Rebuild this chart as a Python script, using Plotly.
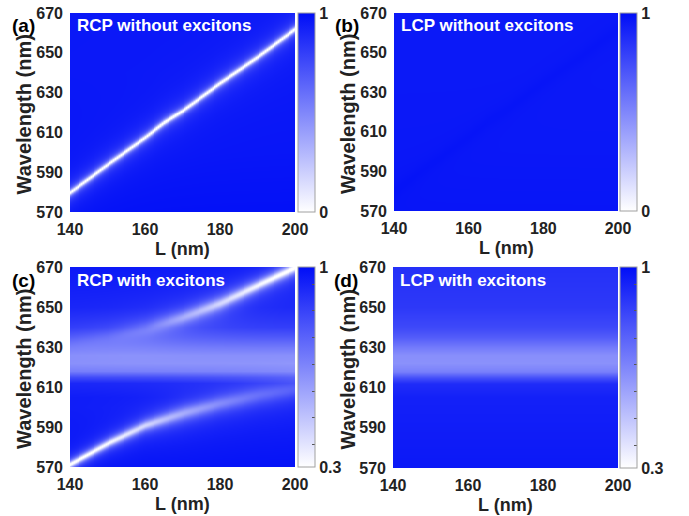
import numpy as np
import plotly.graph_objects as go

# ---------------- data ----------------
L_ticks = [140, 160, 180, 200]
wl_ticks = [570, 590, 610, 630, 650, 670]

# L positions (nm) at which features were read
L_read = [140, 150, 160, 165, 170, 180, 190, 200]

# (a) RCP without excitons: bare cavity resonance (white line)
cav_wl = [580, 594, 607.5, 615, 621, 635, 648, 662]
cav_depth = [0.93, 0.93, 0.93, 0.97, 0.93, 0.93, 0.93, 0.93]

# (b) LCP without excitons: very faint trace of the same mode (slightly deeper blue)
faint_rise = [0.015, 0.015, 0.015, 0.015, 0.015, 0.015, 0.015, 0.015]

# (c) RCP with excitons: upper and lower polariton branches
upper_wl = [632, 635, 639, 642, 645, 652, 661, 670]
upper_depth = [0.03, 0.08, 0.18, 0.27, 0.36, 0.52, 0.63, 0.70]
upper_width = [10, 10, 9, 8, 7, 6, 5, 5]
lower_wl = [571.5, 582, 591, 594, 597, 602, 606, 609]
lower_depth = [0.72, 0.66, 0.55, 0.48, 0.42, 0.32, 0.24, 0.18]
lower_width = [3.5, 4, 5, 6, 7, 8, 9, 10]

# exciton band (reflectance dip) vs wavelength, panels (c) and (d)
band_wl = [570, 605, 612, 615, 618, 622, 626, 630, 635, 640, 650, 670]
band_dip_c = [0, 0, 0.03, 0.13, 0.28, 0.33, 0.32, 0.26, 0.17, 0.09, 0.03, 0]
band_dip_d = [0, 0, 0.03, 0.13, 0.27, 0.32, 0.31, 0.25, 0.16, 0.10, 0.05, 0.02]

# background level vs wavelength for each panel
bg_wl = [570, 600, 640, 670]
bg_a = [0.99, 0.97, 0.96, 0.96]
bg_b = [0.97, 0.96, 0.955, 0.955]
bg_c = [0.99, 0.96, 0.96, 0.97]
bg_d = [0.97, 0.95, 0.93, 0.92]

cbar_minor_c = [0.3795, 0.4725, 0.566, 0.659, 0.7525, 0.847, 0.9405]

titles = ["RCP without excitons", "LCP without excitons",
          "RCP with excitons", "LCP with excitons"]
labels = ["(a)", "(b)", "(c)", "(d)"]

# ---------------- build maps ----------------
L = np.linspace(140, 200, 121)
WL = np.linspace(570, 670, 401)
LL, WW = np.meshgrid(L, WL)


def at(vals):
    return np.interp(LL, L_read, vals)


def lor(x, c, w):
    return 1.0 / (1.0 + ((x - c) / (w / 2.0)) ** 2)


cav = at(cav_wl)
Za = np.interp(WW, bg_wl, bg_a) - at(cav_depth) * lor(WW, cav, 2.8) - 0.08 * lor(WW, cav, 14)
Zb = np.interp(WW, bg_wl, bg_b) + at(faint_rise) * lor(WW, cav, 8)
Zc = (np.interp(WW, bg_wl, bg_c) - np.interp(WW, band_wl, band_dip_c)
      - at(upper_depth) * lor(WW, at(upper_wl), at(upper_width))
      - at(lower_depth) * lor(WW, at(lower_wl), at(lower_width)))
Zd = np.interp(WW, bg_wl, bg_d) - np.interp(WW, band_wl, band_dip_d)

Za = np.clip(Za, 0, 1)
Zb = np.clip(Zb, 0, 1)
Zc = np.clip(Zc, 0.3, 1)
Zd = np.clip(Zd, 0.3, 1)

# ---------------- layout geometry (pixels) ----------------
W, H = 689, 516
FONT = "Liberation Sans, Arial, sans-serif"
TXT = "#222222"
cscale = [[0, "rgb(255,255,255)"], [1, "rgb(0,14,247)"]]

panels = [
    dict(z=Za, x0=70, x1=295, y0=13, y1=212, cb=298, zmin=0, zmax=1),
    dict(z=Zb, x0=394, x1=618, y0=13, y1=211, cb=620, zmin=0, zmax=1),
    dict(z=Zc, x0=70, x1=295, y0=267, y1=467, cb=298, zmin=0.3, zmax=1),
    dict(z=Zd, x0=393, x1=618, y0=267, y1=468, cb=620, zmin=0.3, zmax=1),
]

fig = go.Figure()
layout = dict(width=W, height=H, margin=dict(l=0, r=0, t=0, b=0, autoexpand=False),
              paper_bgcolor="white", plot_bgcolor="white",
              font=dict(family=FONT, color=TXT), showlegend=False)
annotations = []

for i, p in enumerate(panels):
    n = "" if i == 0 else str(i + 1)
    xa, ya = "x" + n, "y" + n
    zmin, zmax = p["zmin"], p["zmax"]
    if zmin == 0:
        tv, tt, tks = [0, 1], ["0", "1"], ""
    else:
        tv = [0.3] + cbar_minor_c + [1]
        tt = ["0.3"] + [""] * len(cbar_minor_c) + ["1"]
        tks = "inside"
    fig.add_trace(go.Heatmap(
        x=L, y=WL, z=p["z"], xaxis=xa, yaxis=ya,
        colorscale=cscale, zmin=zmin, zmax=zmax, zsmooth="best",
        colorbar=dict(
            x=p["cb"] / W, xanchor="left", xpad=0, ypad=0,
            y=1 - (p["y0"] + p["y1"]) / 2 / H, yanchor="middle",
            len=(p["y1"] - p["y0"]) / H, lenmode="fraction",
            thickness=17, thicknessmode="pixels",
            outlinewidth=1, outlinecolor="#a0a0a0",
            tickvals=tv, ticktext=tt, ticks=tks, ticklen=3,
            tickcolor="#555555", tickwidth=1,
            tickfont=dict(family=FONT, size=16, color=TXT, weight="bold"),
        ),
        hoverinfo="skip",
    ))
    layout["xaxis" + n] = dict(
        domain=[p["x0"] / W, p["x1"] / W], anchor=ya, range=[140, 200],
        tickvals=L_ticks, ticks="", showgrid=False, zeroline=False,
        showline=False, ticklabelstandoff=6, automargin=False,
        tickfont=dict(family=FONT, size=16, color=TXT, weight="bold"),
    )
    layout["yaxis" + n] = dict(
        domain=[1 - p["y1"] / H, 1 - p["y0"] / H], anchor=xa, range=[570, 670],
        tickvals=wl_ticks, ticks="", showgrid=False, zeroline=False,
        showline=False, ticklabelstandoff=6, automargin=False,
        tickfont=dict(family=FONT, size=16, color=TXT, weight="bold"),
    )
    # x-axis title
    annotations.append(dict(
        text="L (nm)", xref="paper", yref="paper",
        x=(p["x0"] + p["x1"]) / 2 / W, y=1 - (p["y1"] + 37) / H,
        xanchor="center", yanchor="middle", showarrow=False,
        font=dict(family=FONT, size=18, color=TXT, weight="bold")))
    # y-axis title
    annotations.append(dict(
        text="Wavelength (nm)", xref="paper", yref="paper",
        x=(p["x0"] - 46) / W, y=1 - ((p["y0"] + p["y1"]) / 2 + 2) / H,
        xanchor="center", yanchor="middle", textangle=-90, showarrow=False,
        font=dict(family=FONT, size=20, color=TXT, weight="bold")))
    # in-panel title
    annotations.append(dict(
        text=titles[i], xref="paper", yref="paper",
        x=(p["x0"] + 5) / W, y=1 - (p["y0"] + 13) / H,
        xanchor="left", yanchor="middle", showarrow=False,
        font=dict(family=FONT, size=17, color="white", weight="bold")))
    # panel label
    annotations.append(dict(
        text=labels[i], xref="paper", yref="paper",
        x=(p["x0"] - 33) / W, y=1 - (p["y0"] + 13) / H,
        xanchor="right", yanchor="middle", showarrow=False,
        font=dict(family=FONT, size=19, color="black", weight="bold")))

layout["annotations"] = annotations
fig.update_layout(**layout)
fig.write_html("out.html")
